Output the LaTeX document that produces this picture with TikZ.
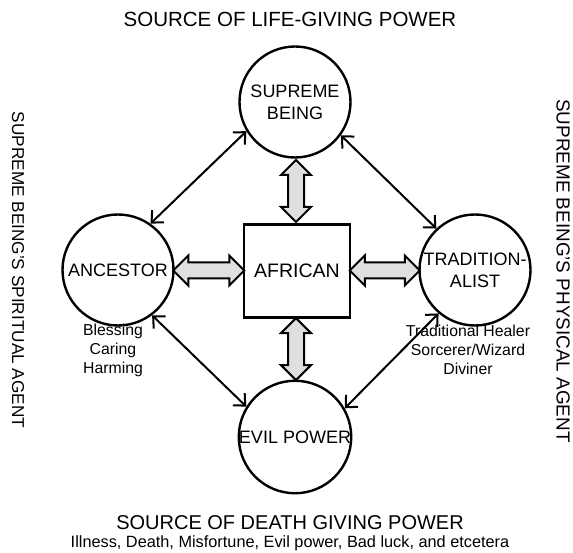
\documentclass[tikz,border=0pt]{standalone}
\usepackage{fontspec}
\setmainfont{Liberation Sans}
\usetikzlibrary{shapes.arrows,arrows.meta,calc}

\begin{document}
\begin{tikzpicture}[x=1pt,y=-1pt,
  power/.style={draw, circle, line width=2.4pt, minimum size=111pt, inner sep=0pt,
    align=center, font=\fontsize{18}{22}\selectfont},
  centrebox/.style={draw, rectangle, line width=2.4pt, minimum width=106pt,
    minimum height=93pt, font=\fontsize{19.5}{22}\selectfont},
  blockarrow/.style={draw, double arrow, fill=gray!25, line width=2pt, inner xsep=0pt,
    inner ysep=7pt, double arrow head extend=7pt, double arrow tip angle=90},
  link/.style={line width=2pt, {Straight Barb[length=9pt,width=17pt]}-{Straight Barb[length=9pt,width=17pt]}},
  heading/.style={font=\fontsize{20.5}{24}\selectfont},
  note/.style={align=center, font=\fontsize{15.8}{19}\selectfont}]
\useasboundingbox (0,0) rectangle (573,553);
% the five parties
\node[power] (supreme) at (295,102) {SUPREME\\BEING};
\node[centrebox] (african) at (297,271) {AFRICAN};
\node[power] (ancestor) at (118,270) {ANCESTOR};
\node[power] (tradition) at (475,270) {TRADITION-\\ALIST};
\node[power] (evil) at (295,437) {EVIL POWER};
% block arrows to the african
\node[blockarrow, rotate=90, minimum height=62pt] (upper)
  at ($(supreme.south)!0.5!(african.north)$) {};
\node[blockarrow, rotate=90, minimum height=62pt] (lower)
  at ($(african.south)!0.5!(evil.north)$) {};
\node[blockarrow, minimum height=71pt] (left)
  at ($(ancestor.east)!0.5!(african.west)$) {};
\node[blockarrow, minimum height=70pt] (right)
  at ($(african.east)!0.5!(tradition.west)$) {};
% thin links round the ring
\draw[link] (supreme.211) -- (ancestor.55);
\draw[link] (supreme.324) -- (tradition.133);
\draw[link] (ancestor.-53) -- (evil.148);
\draw[link] (tradition.230) -- (evil.30);
% labels
\node[note] (gifts) at (113,350) {Blessing\\Caring\\Harming};
\node[note] (healers) at (468,350) {Traditional Healer\\Sorcerer/Wizard\\Diviner};
\node[heading] (life) at (290,19) {SOURCE OF LIFE-GIVING POWER};
\node[heading, font=\fontsize{20}{24}\selectfont] (death) at (290,523) {SOURCE OF DEATH GIVING POWER};
\node[note, font=\fontsize{16.3}{19}\selectfont] (ills) at (290,543) {Illness, Death, Misfortune, Evil power, Bad luck, and etcetera};
\node[heading, rotate=-90, font=\fontsize{17.2}{20}\selectfont] (spirit) at (18,270) {SUPREME BEING'S SPIRITUAL AGENT};
\node[heading, rotate=-90, font=\fontsize{18.9}{22}\selectfont] (physical) at (563,271) {SUPREME BEING'S PHYSICAL AGENT};
\end{tikzpicture}
\end{document}
